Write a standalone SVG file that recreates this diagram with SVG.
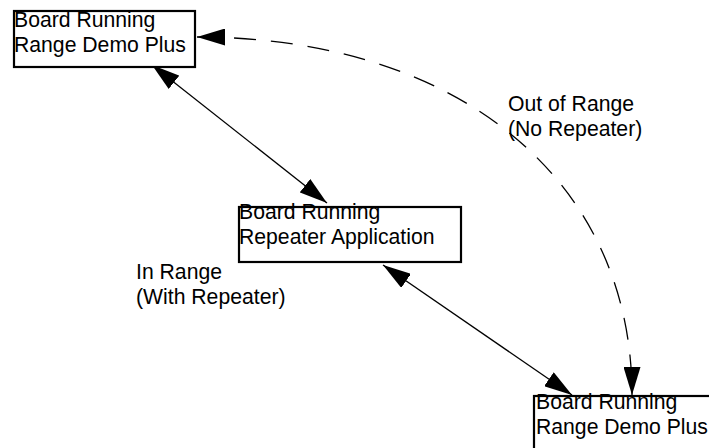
<svg xmlns="http://www.w3.org/2000/svg" width="709" height="448" viewBox="0 0 709 448">
<style>
.box{fill:#fff;stroke:#000;stroke-width:2.2}
.t{font-family:"Liberation Sans",Arial,sans-serif;font-size:21.2px;fill:#000}
.ln{fill:none;stroke:#000;stroke-width:1.3}
.dash{stroke-dasharray:22 15}
</style>
<defs>
<marker id="ah" markerUnits="userSpaceOnUse" viewBox="0 0 28 17" refX="28" refY="8.5" markerWidth="28" markerHeight="17" orient="auto-start-reverse">
<path d="M0,0 L28,8.5 L0,17 z" fill="#000"/>
</marker>
</defs>
<rect width="709" height="448" fill="#fff"/>
<g id="connectors">
<line class="ln" x1="152" y1="65" x2="327" y2="203" marker-start="url(#ah)" marker-end="url(#ah)"/>
<line class="ln" x1="383" y1="265" x2="572" y2="395" marker-start="url(#ah)" marker-end="url(#ah)"/>
<path class="ln dash" d="M197,37 C458,37 632,180 632,395" marker-start="url(#ah)" marker-end="url(#ah)"/>
</g>
<g id="node1">
<rect class="box" x="14" y="11" width="181" height="56"/>
<text class="t" x="14" y="27">Board Running</text>
<text class="t" x="14" y="52">Range Demo Plus</text>
</g>
<g id="node2">
<rect class="box" x="239" y="207" width="222" height="55"/>
<text class="t" x="239" y="219">Board Running</text>
<text class="t" x="239" y="244">Repeater Application</text>
</g>
<g id="node3">
<rect class="box" x="534" y="396" width="180" height="60"/>
<text class="t" x="536" y="409">Board Running</text>
<text class="t" x="536" y="434">Range Demo Plus</text>
</g>
<g id="labels">
<text class="t" x="508" y="111">Out of Range</text>
<text class="t" x="508" y="136">(No Repeater)</text>
<text class="t" x="136" y="279">In Range</text>
<text class="t" x="136" y="304">(With Repeater)</text>
</g>
</svg>
